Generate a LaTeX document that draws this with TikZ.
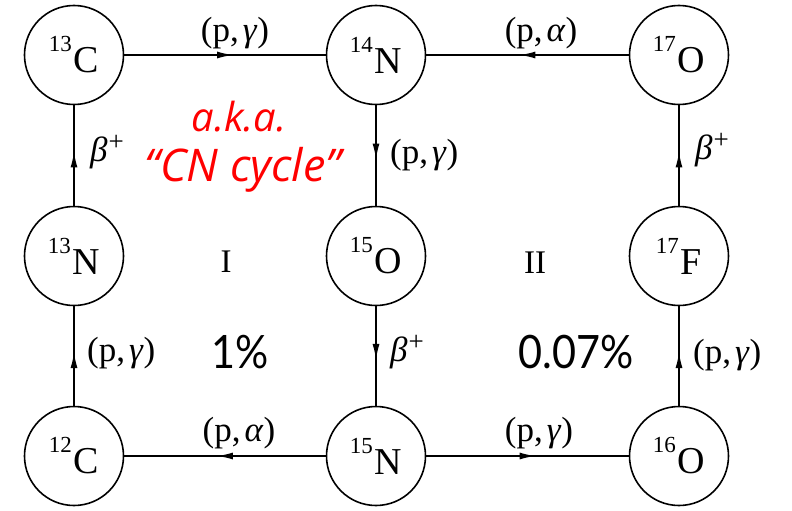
\documentclass[tikz,border=0pt]{standalone}
\usepackage{fontspec}
\setmainfont{Liberation Serif}
\newfontfamily\numfont{Lato}
\newfontfamily\redfont{Open Sans}
\usetikzlibrary{decorations.markings,arrows.meta}
\newcommand{\isotope}[2]{{\fontsize{23}{23}\selectfont\raisebox{21pt}{#1}}\kern2pt #2}
\newcommand{\pg}{(p,\kern4pt\textit{γ})}
\newcommand{\pa}{(p,\kern4pt\textit{α})}
\newcommand{\bp}{\textit{β}\kern1pt\raisebox{11pt}{\fontsize{27}{27}\selectfont +}}
\tikzset{
  iso/.style={circle,draw,line width=1.6pt,minimum size=99pt,inner sep=0pt,font=\fontsize{38}{40}\selectfont},
  flow/.style={line width=1.6pt,postaction={decorate},
    decoration={markings,mark=at position 0.54 with {\arrow{Latex[length=16pt,width=7pt]}}}},
  rxn/.style={font=\fontsize{35}{37}\selectfont,inner sep=0pt},
  roman/.style={font=\fontsize{33}{35}\selectfont,inner sep=0pt},
  pct/.style={font=\numfont\fontsize{46}{48}\selectfont,inner sep=0pt,xscale=0.9},
  aka/.style={font=\redfont\itshape\fontsize{40}{42}\selectfont,text=red,inner sep=0pt},
  cn/.style={font=\redfont\itshape\fontsize{45}{48}\selectfont,text=red,inner sep=0pt},
}
\begin{document}
\begin{tikzpicture}[x=1pt,y=-1pt]
\useasboundingbox (0,0) rectangle (792,511);
% nodes
\node[iso] (c13) at (74,55)  {\isotope{13}{C}};
\node[iso] (n14) at (376,55) {\isotope{14}{N}};
\node[iso] (o17) at (679,55) {\isotope{17}{O}};
\node[iso] (n13) at (74,256)  {\isotope{13}{N}};
\node[iso] (o15) at (376,256) {\isotope{15}{O}};
\node[iso] (f17) at (679,256) {\isotope{17}{F}};
\node[iso] (c12) at (74,456)  {\isotope{12}{C}};
\node[iso] (n15) at (376,456) {\isotope{15}{N}};
\node[iso] (o16) at (679,456) {\isotope{16}{O}};
% connectors
\draw[flow] (c13) -- (n14);
\draw[flow] (o17) -- (n14);
\draw[flow] (n13) -- (c13);
\draw[flow] (n14) -- (o15);
\draw[flow] (f17) -- (o17);
\draw[flow] (c12) -- (n13);
\draw[flow] (o15) -- (n15);
\draw[flow] (o16) -- (f17);
\draw[flow] (n15) -- (c12);
\draw[flow] (n15) -- (o16);
% reaction labels
\node[rxn] (l1) at (235,33) {\pg};
\node[rxn] (l2) at (541,33) {\pa};
\node[rxn,anchor=west] (l3) at (90,152) {\bp};
\node[rxn,anchor=west] (l4) at (390,155) {\pg};
\node[rxn,anchor=west] (l5) at (695,150) {\bp};
\node[rxn,anchor=west] (l6) at (87,353) {\pg};
\node[rxn,anchor=west] (l7) at (390,352) {\bp};
\node[rxn,anchor=west] (l8) at (693,355) {\pg};
\node[rxn] (l9) at (239,433) {\pa};
\node[rxn] (l10) at (539,433) {\pg};
% cycle labels
\node[roman] (r1) at (226,262) {I};
\node[roman] (r2) at (535,263) {II};
\node[pct] (p1) at (240,352) {1\%};
\node[pct] (p2) at (576,352) {0.07\%};
\node[aka] (a1) at (239,117) {a.k.a.};
\node[cn] (a2) at (243,170) {“CN cycle”};
\end{tikzpicture}
\end{document}
